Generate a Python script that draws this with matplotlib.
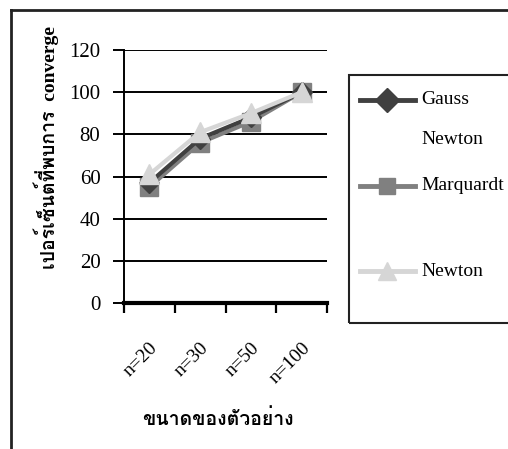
import matplotlib
matplotlib.use("Agg")
import matplotlib.pyplot as plt
from matplotlib import font_manager
from matplotlib.ft2font import FT2Font
from matplotlib.lines import Line2D

categories = ["n=20", "n=30", "n=50", "n=100"]
gauss_newton = [57, 78, 88, 100]
marquardt = [55, 76, 86, 100]
newton = [61, 81, 90, 100]
series_labels = ["Gauss\nNewton", "Marquardt", "Newton"]
y_ticks = [0, 20, 40, 60, 80, 100, 120]
x_label = "ขนาดของตัวอย่าง"
y_label = "เปอร์เซ็นต์ที่พบการ  converge"

# find a font that has Thai glyphs
thai_fams = []
for f in font_manager.fontManager.ttflist:
    try:
        cm = FT2Font(f.fname).get_charmap()
        if 0x0E02 in cm and f.name not in thai_fams:
            thai_fams.append(f.name)
    except Exception:
        pass

serif = "Liberation Serif"
thai_family = [serif] + thai_fams + ["DejaVu Sans"]

W, H = 508, 449
fig = plt.figure(figsize=(W / 100, H / 100), dpi=100)

def fx(px):
    return px / W

def fy(py):
    return 1 - py / H

ax = fig.add_axes([fx(124), fy(303), fx(327) - fx(124), fy(50) - fy(303)])
x = list(range(len(categories)))
ax.plot(x, gauss_newton, color="#404040", lw=3, marker="D", ms=10, zorder=4)
ax.plot(x, marquardt, color="#808080", lw=3, marker="s", ms=13, zorder=3)
ax.plot(x, newton, color="#d6d6d6", lw=3, marker="^", ms=14, zorder=5)

ax.set_xlim(-0.5, 3.5)
ax.set_ylim(0, 120)
ax.set_yticks(y_ticks)
ax.set_yticklabels([str(v) for v in y_ticks], family=serif, fontsize=15)
ax.yaxis.grid(True, color="black", lw=1.4)
ax.set_axisbelow(True)
ax.set_xticks([-0.5, 0.5, 1.5, 2.5, 3.5])
ax.set_xticklabels([])
ax.set_xticks(x, minor=True)
ax.set_xticklabels(categories, minor=True, rotation=45, ha="right", va="top",
                   family=serif, fontsize=14, rotation_mode="anchor")
ax.tick_params(axis="x", which="minor", length=0, pad=26)
ax.tick_params(axis="x", which="major", length=7, width=1.6, direction="out", color="black")
ax.tick_params(axis="y", length=8, width=1.4, direction="out", pad=9)
for s in ["top", "right"]:
    ax.spines[s].set_visible(False)
ax.spines["left"].set_linewidth(1.4)
ax.spines["bottom"].set_linewidth(3)

fig.text(fx(218), fy(419), x_label, ha="center", va="center",
         family=thai_family, fontsize=14, fontweight="bold")
fig.text(fx(46), fy(148), y_label, ha="center", va="center", rotation=90,
         family=thai_family, fontsize=14, fontweight="bold")

# outer frame
fig.add_artist(Line2D([fx(11), fx(508)], [fy(10), fy(10)], color="#222222", lw=2))
fig.add_artist(Line2D([fx(11), fx(11)], [fy(10), fy(449)], color="#222222", lw=2))

# legend box
fig.add_artist(plt.Rectangle((fx(349), fy(323)), fx(520) - fx(349), fy(75) - fy(323),
                             fill=False, edgecolor="#222222", lw=1.5))
styles = [("#404040", "D", 12), ("#808080", "s", 12), ("#d6d6d6", "^", 13)]
ys = [100, 186, 271]
for (c, m, ms), yy, lab in zip(styles, ys, series_labels):
    fig.add_artist(Line2D([fx(360), fx(415)], [fy(yy), fy(yy)], color=c, lw=3.5))
    fig.add_artist(Line2D([fx(387)], [fy(yy)], color=c, marker=m, ms=ms, lw=0))
    fig.text(fx(421), fy(yy), lab.split("\n")[0], ha="left", va="center",
             family=serif, fontsize=14)
fig.text(fx(421), fy(140), "Newton", ha="left", va="center", family=serif, fontsize=14)

fig.savefig("out.png", dpi=100)
